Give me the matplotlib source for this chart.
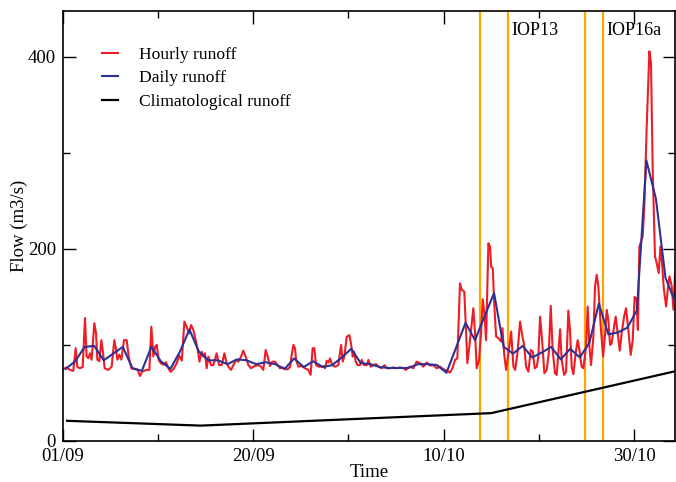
import matplotlib
matplotlib.use("Agg")
import matplotlib.pyplot as plt
from matplotlib.ticker import MultipleLocator

plt.rcParams['font.family'] = ['Liberation Serif', 'DejaVu Serif']
plt.rcParams['font.size'] = 13.5

# hourly runoff, (day since 01/09, m3/s) vertices
hourly_day = [
    0.06, 0.4, 0.76, 1.1, 1.35, 1.53, 1.8, 2.09, 2.33, 2.5, 2.68, 2.86, 3.03, 3.31, 3.49,
    3.63, 3.84, 4.05, 4.19, 4.4, 4.78, 5.13, 5.41, 5.59, 5.73, 5.94, 6.15, 6.43, 6.71, 6.92,
    7.2, 7.58, 7.86, 8.11, 8.32, 8.74, 9.09, 9.3, 9.51, 9.69, 9.86, 10.07, 10.28, 10.56, 10.84,
    11.09, 11.33, 11.61, 11.96, 12.24, 12.5, 12.77, 13.01, 13.26, 13.47, 13.71, 13.96, 14.24,
    14.35, 14.59, 14.77, 14.94, 15.11, 15.29, 15.57, 15.81, 16.16, 16.41, 16.69, 16.97, 17.21,
    17.39, 17.67, 17.92, 18.16, 18.44, 18.72, 18.96, 19.21, 19.49, 19.77, 20.12, 20.54, 20.82,
    21.06, 21.31, 21.52, 21.76, 22.01, 22.29, 22.57, 22.81, 23.06, 23.34, 23.62, 23.87, 24.04,
    24.22, 24.39, 24.5, 24.74, 25.09, 25.44, 25.79, 26.03, 26.24, 26.42, 26.6, 26.84, 27.19,
    27.37, 27.54, 27.72, 27.89, 28.07, 28.31, 28.59, 28.94, 29.23, 29.4, 29.57, 29.82, 30.1,
    30.27, 30.45, 30.59, 30.76, 30.97, 31.22, 31.4, 31.64, 31.92, 32.1, 32.34, 32.62, 32.9,
    33.15, 33.5, 33.78, 34.02, 34.37, 34.72, 35.07, 35.42, 35.78, 36.05, 36.3, 36.47, 36.82,
    37.17, 37.52, 37.87, 38.22, 38.57, 38.92, 39.27, 39.62, 39.97, 40.32, 40.67, 40.92, 41.2,
    41.44, 41.72, 41.9, 42.17, 42.35, 42.49, 42.7, 42.88, 43.12, 43.3, 43.47, 43.72, 43.93,
    44.1, 44.28, 44.46, 44.7, 44.88, 44.99, 45.16, 45.33, 45.51, 45.76, 46.04, 46.18, 46.35,
    46.56, 46.81, 47.09, 47.33, 47.51, 47.75, 48.03, 48.28, 48.45, 48.66, 48.9, 49.15, 49.36,
    49.57, 49.78, 49.95, 50.13, 50.34, 50.58, 50.83, 51.04, 51.25, 51.45, 51.7, 51.87, 52.05,
    52.23, 52.4, 52.65, 52.86, 53.1, 53.27, 53.45, 53.63, 53.87, 54.08, 54.26, 54.5, 54.68,
    54.96, 55.13, 55.31, 55.48, 55.73, 55.9, 56.08, 56.25, 56.5, 56.75, 56.95, 57.13, 57.3,
    57.48, 57.65, 57.9, 58.07, 58.28, 58.5, 58.7, 58.95, 59.16, 59.4, 59.65, 59.86, 60.06,
    60.27, 60.4, 60.56, 60.91, 61.09, 61.33, 61.61, 61.78, 61.96, 62.2, 62.38, 62.59, 62.77,
    62.94, 63.12, 63.37, 63.54, 63.72, 63.96, 64.14, 64.31, 64.42,
]
hourly_flow = [
    75, 76.6, 74, 73, 96.6, 77, 75.7, 77, 128, 88, 86.3, 91.3, 84.6, 122.6, 112,
    84.6, 83, 105, 95, 75.7, 74, 77.4, 105, 95.5, 84.7, 89.9, 84.7, 105, 105, 88,
    75.7, 74.7, 74, 67.7, 72, 74, 74, 119, 88, 98, 100, 84.7, 81, 79.5, 82,
    75.7, 72, 74.7, 81, 89, 83.6, 124.3, 119, 112, 120.8, 115.6, 105, 91.3,
    82.6, 93, 87.8, 91.3, 75.7, 87.8, 79, 79, 91.3, 79, 79, 91.3, 81,
    77.4, 74, 79, 84.2, 82.6, 87.8, 94.1, 87.8, 79, 75.7, 78, 79, 77.4,
    74, 94.8, 88, 78, 82.6, 82.6, 79, 75.7, 76.6, 74.7, 74.7, 77, 89.6,
    100, 96.6, 84.4, 77.4, 78, 75.7, 74, 68.8, 96.6, 96.6, 79, 77.4, 77.4,
    78, 75.7, 83.6, 81.6, 86, 79, 77.4, 79, 100, 82.6, 87.8, 108.5, 110.2,
    101.6, 87.8, 93, 82.6, 79, 79, 84.4, 79, 79, 84.4, 77.4, 79, 80,
    77.4, 75.7, 79, 75.7, 75.7, 76.6, 75.7, 76.6, 75.7, 74, 76.6, 77.4, 75.7,
    82.6, 81, 77.4, 81.6, 78.5, 79, 75.7, 77.4, 74.7, 73.3, 71.2, 75.7, 84.4,
    86, 164.2, 157.3, 155.6, 115.6, 81, 98.3, 115.6, 138.2, 112, 75.7, 84.4, 112,
    147.6, 133, 105, 205.9, 202.4, 181.6, 179.9, 140, 108.7, 107, 103.5, 117.4, 91.3,
    74, 91.3, 113.9, 77.4, 74, 91.3, 124.3, 108.7, 100, 77.4, 72.2, 94.8, 93,
    75.7, 77.4, 87.8, 129.5, 105, 70.5, 74, 91.3, 140.6, 94.8, 70.5, 68.8, 91.3,
    116.3, 84.4, 68.8, 72.2, 135.8, 115.6, 77.4, 69.5, 91.3, 105, 94.8, 77.4, 75.7,
    98.3, 140, 98.3, 79, 108.7, 160.8, 173, 160.8, 119, 88, 110.4, 136.5, 126,
    100, 101.7, 119, 129.5, 112, 94, 112, 129.5, 138.2, 115.6, 89.6, 105, 150,
    148, 115.6, 202.5, 212.9, 247.6, 327.5, 405.7, 393.6, 282.5, 192.2, 185.2, 174.8, 202.5,
    185.2, 159.2, 140.1, 157.5, 171.4, 161, 136.8, 174.8, 178,
]

# daily mean runoff, one value per day
daily_flow = [
    75, 83, 98, 99, 84, 91, 98, 76, 73, 98, 83, 75, 93, 116, 93, 84, 84, 80, 85, 84,
    80, 82, 80, 75, 86, 77, 83, 77, 79, 87, 96, 81, 80, 77, 76, 76, 76, 80, 80, 79,
    71, 97, 123, 105, 130, 154, 98, 91, 99, 87, 92, 98, 85, 96, 87, 102, 143, 111, 113, 118,
    136, 292, 252, 170, 145,
]
daily_day = [k + 0.3 for k in range(len(daily_flow))]

# climatological runoff
clim_day = [0.45, 14.5, 45.0, 64.5]
clim_flow = [21, 16, 29, 73]

# IOP start/end markers
iop_lines = [43.85, 46.8, 54.8, 56.7]
iop_labels = [("IOP13", 47.1), ("IOP16a", 57.1)]

xtick_pos = [0, 20, 40, 60]
xtick_labels = ["01/09", "20/09", "10/10", "30/10"]

fig = plt.figure(figsize=(6.76, 4.82), dpi=100)
ax = fig.add_axes([0.0929, 0.0851, 0.9056, 0.8927])

for x in iop_lines:
    ax.axvline(x, color="#ffa500", lw=1.6, zorder=1)

ax.plot(hourly_day, hourly_flow, color="#ee1c25", lw=1.5, label="Hourly runoff", zorder=2)
ax.plot(daily_day, daily_flow, color="#2e3192", lw=1.5, label="Daily runoff", zorder=3)
ax.plot(clim_day, clim_flow, color="black", lw=1.6, label="Climatological runoff", zorder=3)

for text, x in iop_labels:
    ax.text(x, 427, text, ha="left", va="center", fontsize=13)

ax.set_xlim(0, 64.3)
ax.set_ylim(0, 448)
ax.set_xticks(xtick_pos)
ax.set_xticklabels(xtick_labels)
ax.xaxis.set_minor_locator(MultipleLocator(10))
ax.yaxis.set_major_locator(MultipleLocator(200))
ax.yaxis.set_minor_locator(MultipleLocator(100))
ax.tick_params(which="both", direction="in", top=True, right=True, width=1)
ax.tick_params(which="major", length=9, pad=5)
ax.tick_params(which="minor", length=5)
for s in ax.spines.values():
    s.set_linewidth(1.2)

ax.set_xlabel("Time", labelpad=-1)
ax.set_ylabel("Flow (m3/s)", labelpad=0)

ax.legend(loc="upper left", bbox_to_anchor=(0.049, 0.937), frameon=False,
          handlelength=0.95, handletextpad=1.2, labelspacing=0.42, borderpad=0,
          fontsize=12.6)

fig.savefig("out.png", dpi=100)
